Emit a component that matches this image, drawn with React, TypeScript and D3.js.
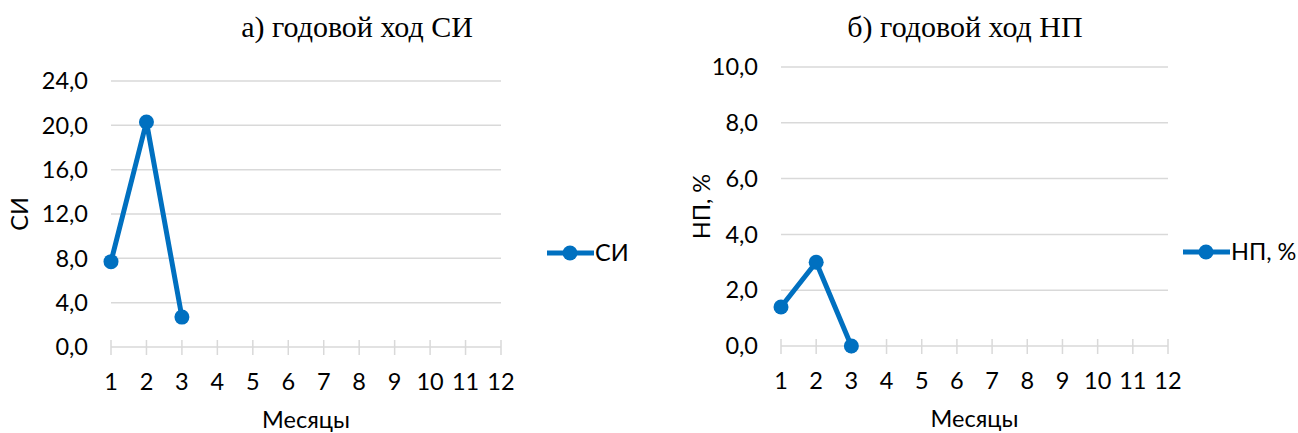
import { useEffect, useRef } from 'react'
import * as d3 from 'd3'

const months = [1, 2, 3, 4, 5, 6, 7, 8, 9, 10, 11, 12]

const siMonths = [1, 2, 3]
const siValues = [7.7, 20.3, 2.7]
const siTicks = [0, 4, 8, 12, 16, 20, 24]

const npMonths = [1, 2, 3]
const npValues = [1.4, 3.0, 0.0]
const npTicks = [0, 2, 4, 6, 8, 10]

const BLUE = '#0070C0'
const GRID = '#d9d9d9'
const FONT = 'Lato, Carlito, Calibri, "Open Sans", sans-serif'
const FS = '23.5px'

interface PanelConfig {
  title: string
  titleX: number
  yLabel: string
  yLabelX: number
  legend: string
  legendX: number
  legendY: number
  left: number
  right: number
  top: number
  bottom: number
  ticks: number[]
  xs: number[]
  values: number[]
}

export default function App() {
  const svgRef = useRef<SVGSVGElement>(null)

  useEffect(() => {
    if (!svgRef.current) return
    const svg = d3.select(svgRef.current)
    svg.selectAll('*').remove()

    const fmt = (v: number) => v.toFixed(1).replace('.', ',')

    const drawPanel = (cfg: PanelConfig) => {
      const g = svg.append('g')
      const x = d3.scaleLinear().domain([1, 12]).range([cfg.left, cfg.right])
      const y = d3.scaleLinear()
        .domain([0, d3.max(cfg.ticks) as number])
        .range([cfg.bottom, cfg.top])

      // title
      g.append('text')
        .attr('x', cfg.titleX)
        .attr('y', 37)
        .attr('text-anchor', 'middle')
        .style('font-family', '"Liberation Serif", "Times New Roman", serif')
        .style('font-size', '30px')
        .style('fill', '#000')
        .text(cfg.title)

      // gridlines
      g.selectAll('.grid')
        .data(cfg.ticks.filter(t => t > 0))
        .enter()
        .append('line')
        .attr('x1', cfg.left)
        .attr('x2', cfg.right)
        .attr('y1', d => y(d))
        .attr('y2', d => y(d))
        .style('stroke', GRID)
        .style('stroke-width', 1.5)

      // x axis line + cross ticks
      g.append('line')
        .attr('x1', cfg.left)
        .attr('x2', cfg.right)
        .attr('y1', y(0))
        .attr('y2', y(0))
        .style('stroke', GRID)
        .style('stroke-width', 1.5)

      g.selectAll('.xtick')
        .data(months)
        .enter()
        .append('line')
        .attr('x1', d => x(d))
        .attr('x2', d => x(d))
        .attr('y1', y(0) - 7)
        .attr('y2', y(0) + 8)
        .style('stroke', GRID)
        .style('stroke-width', 1.5)

      // y tick labels
      g.selectAll('.ylab')
        .data(cfg.ticks)
        .enter()
        .append('text')
        .attr('x', cfg.left - 23)
        .attr('y', d => y(d))
        .attr('dy', '0.35em')
        .attr('text-anchor', 'end')
        .style('font-family', FONT)
        .style('font-size', FS)
        .style('fill', '#000')
        .text(d => fmt(d))

      // x tick labels
      g.selectAll('.xlab')
        .data(months)
        .enter()
        .append('text')
        .attr('x', d => x(d))
        .attr('y', y(0) + 35)
        .attr('dy', '0.35em')
        .attr('text-anchor', 'middle')
        .style('font-family', FONT)
        .style('font-size', FS)
        .style('fill', '#000')
        .text(d => String(d))

      // axis titles
      g.append('text')
        .attr('x', (cfg.left + cfg.right) / 2)
        .attr('y', y(0) + 73)
        .attr('dy', '0.35em')
        .attr('text-anchor', 'middle')
        .style('font-family', FONT)
        .style('font-size', FS)
        .style('fill', '#000')
        .text('Месяцы')

      g.append('text')
        .attr('transform', `translate(${cfg.yLabelX},${(cfg.top + cfg.bottom) / 2}) rotate(-90)`)
        .attr('dy', '0.35em')
        .attr('text-anchor', 'middle')
        .style('font-family', FONT)
        .style('font-size', FS)
        .style('fill', '#000')
        .text(cfg.yLabel)

      // series
      const pts = cfg.xs.map((m, i) => [x(m), y(cfg.values[i])] as [number, number])
      g.append('path')
        .attr('d', d3.line()(pts))
        .style('fill', 'none')
        .style('stroke', BLUE)
        .style('stroke-width', 5)
        .style('stroke-linejoin', 'round')

      g.selectAll('.pt')
        .data(pts)
        .enter()
        .append('circle')
        .attr('cx', d => d[0])
        .attr('cy', d => d[1])
        .attr('r', 7.5)
        .style('fill', BLUE)

      // legend
      g.append('line')
        .attr('x1', cfg.legendX)
        .attr('x2', cfg.legendX + 47)
        .attr('y1', cfg.legendY)
        .attr('y2', cfg.legendY)
        .style('stroke', BLUE)
        .style('stroke-width', 5)
      g.append('circle')
        .attr('cx', cfg.legendX + 23)
        .attr('cy', cfg.legendY)
        .attr('r', 7.5)
        .style('fill', BLUE)
      g.append('text')
        .attr('x', cfg.legendX + 48)
        .attr('y', cfg.legendY)
        .attr('dy', '0.35em')
        .style('font-family', FONT)
        .style('font-size', FS)
        .style('fill', '#000')
        .text(cfg.legend)
    }

    drawPanel({
      title: 'а) годовой ход СИ',
      titleX: 357,
      yLabel: 'СИ',
      yLabelX: 20,
      legend: 'СИ',
      legendX: 547,
      legendY: 253,
      left: 111,
      right: 501,
      top: 81,
      bottom: 347,
      ticks: siTicks,
      xs: siMonths,
      values: siValues
    })

    drawPanel({
      title: 'б) годовой ход НП',
      titleX: 965,
      yLabel: 'НП, %',
      yLabelX: 702,
      legend: 'НП, %',
      legendX: 1183,
      legendY: 252,
      left: 781,
      right: 1168,
      top: 67,
      bottom: 346,
      ticks: npTicks,
      xs: npMonths,
      values: npValues
    })
  }, [])

  return (
    <svg
      ref={svgRef}
      width={1298}
      height={433}
      style={{ position: 'absolute', left: 0, top: 0, background: '#fff' }}
    />
  )
}
